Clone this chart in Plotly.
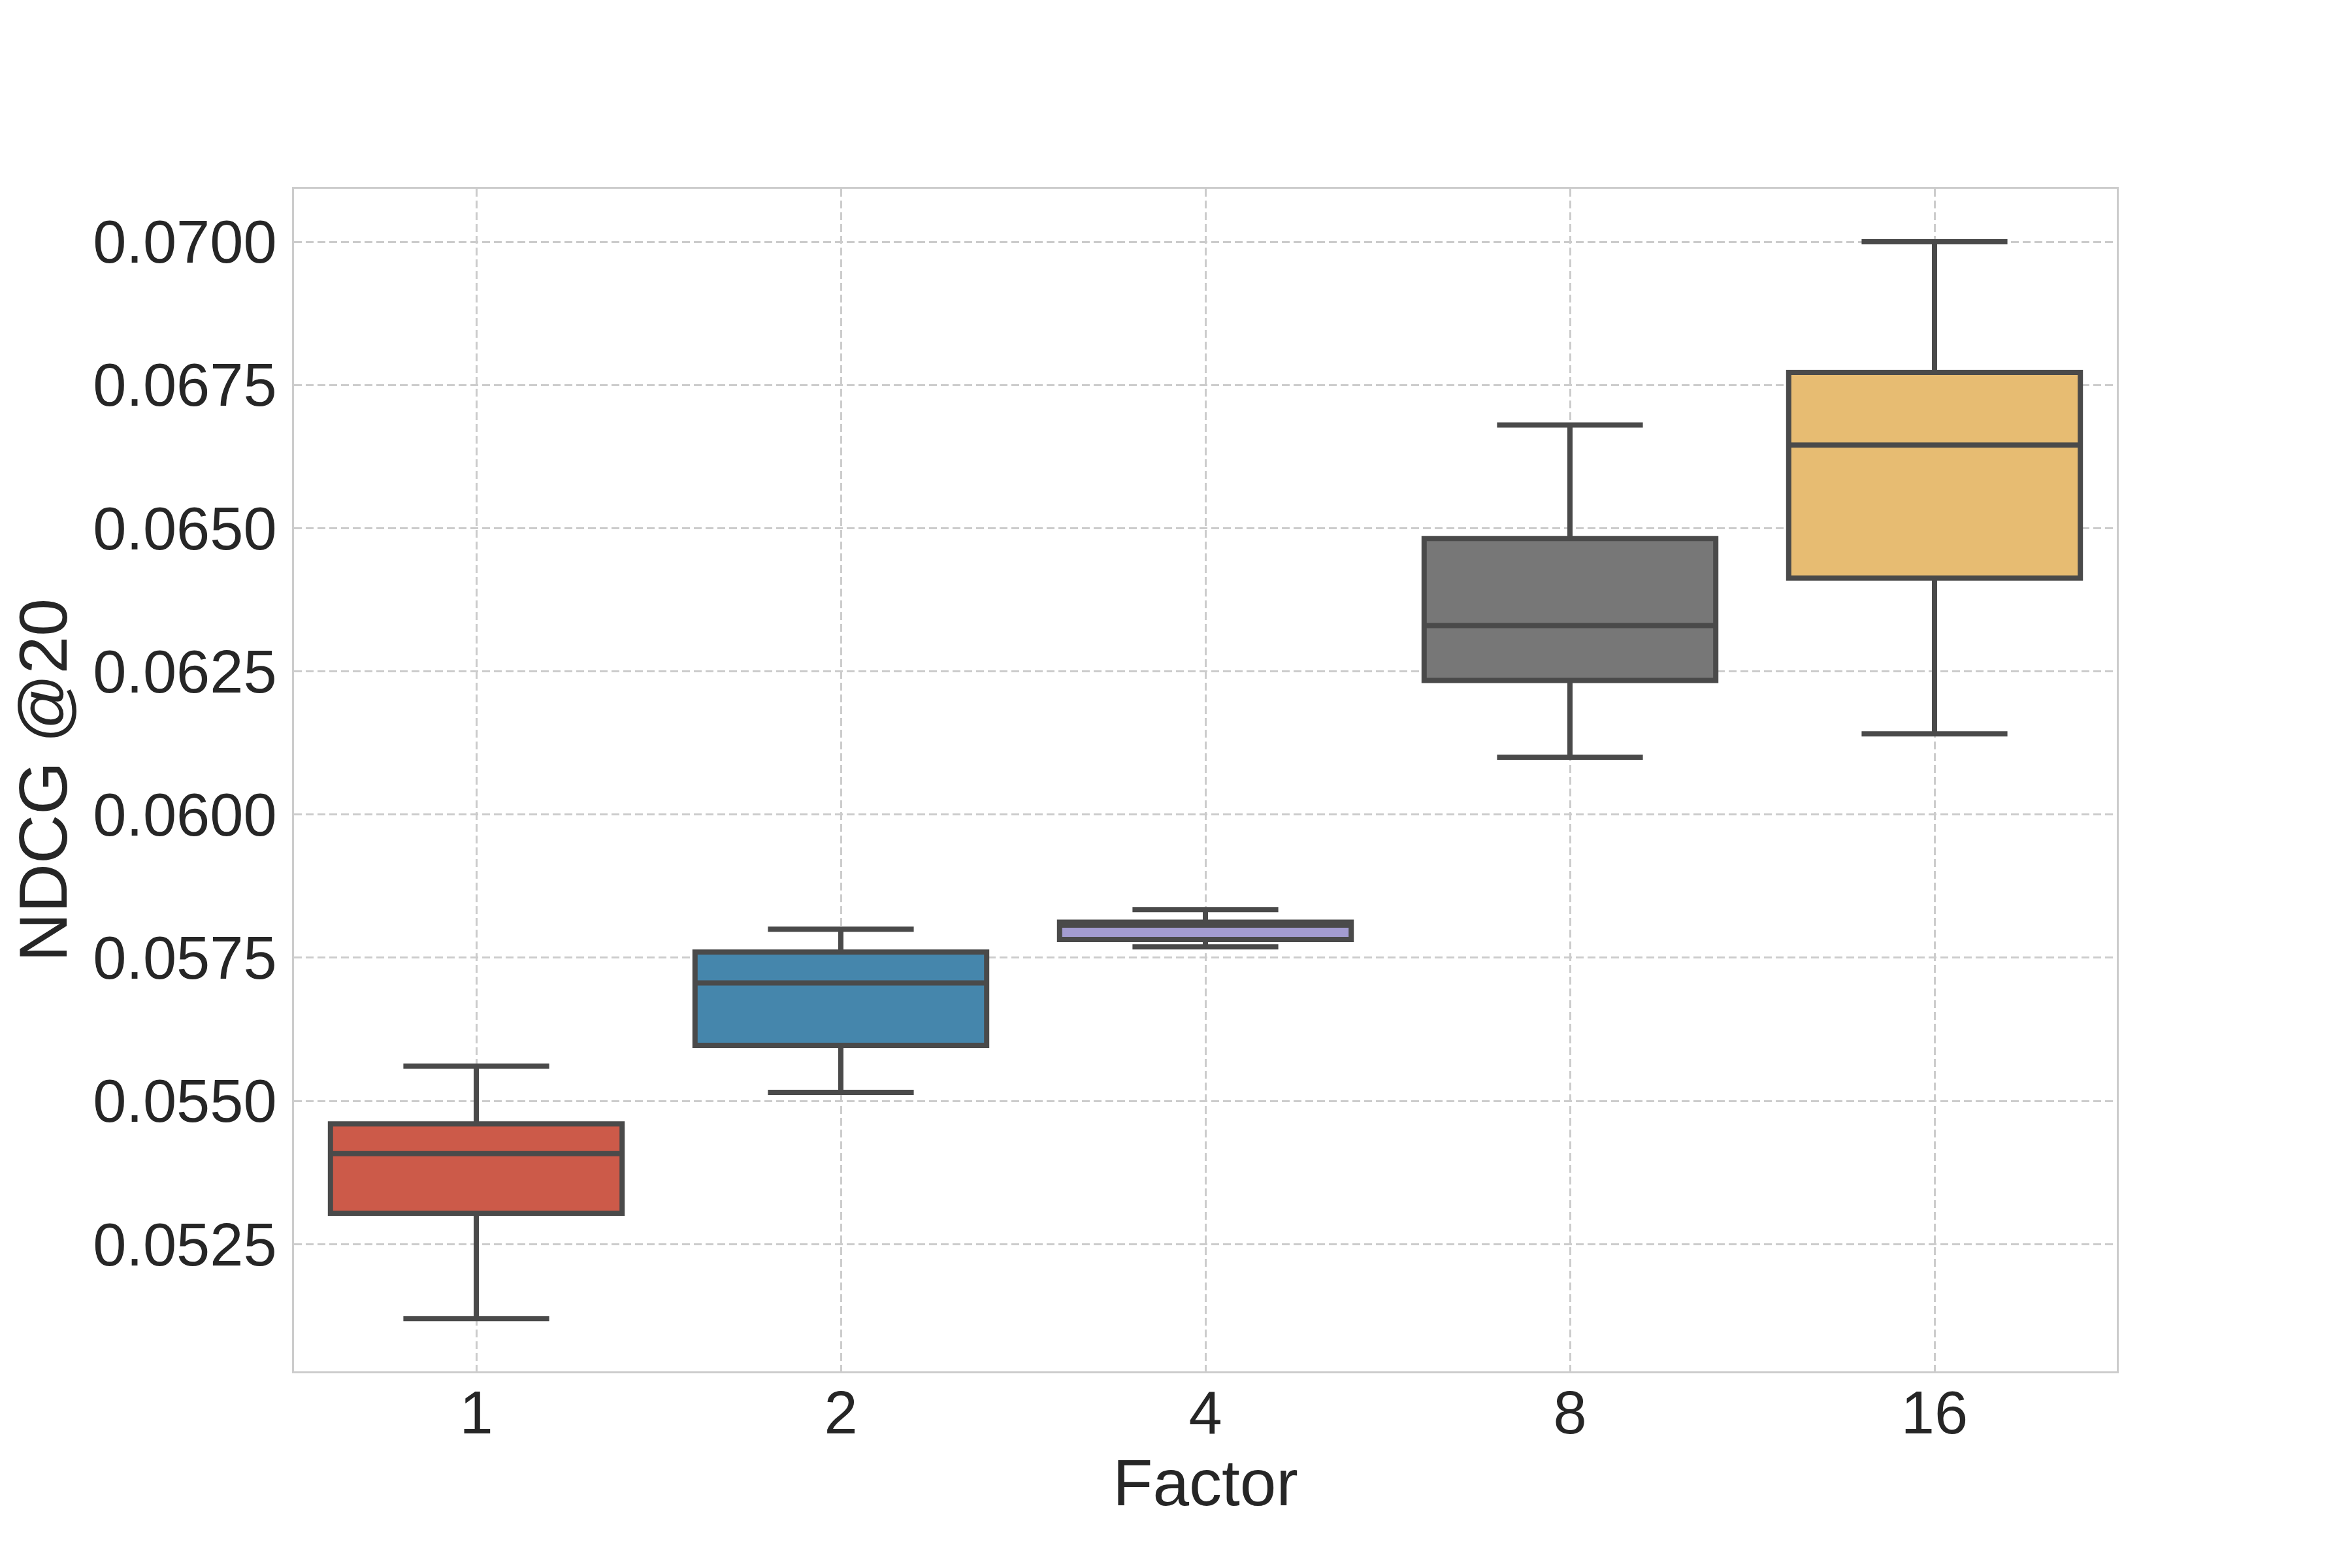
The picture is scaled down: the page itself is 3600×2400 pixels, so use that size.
import plotly.graph_objects as go

categories = ["1", "2", "4", "8", "16"]
q1 = [0.05304, 0.05597, 0.05782, 0.06234, 0.06413]
median = [0.05408, 0.05706, 0.05807, 0.06330, 0.06645]
q3 = [0.05460, 0.05760, 0.05812, 0.06482, 0.06772]
lower = [0.05120, 0.05515, 0.05769, 0.06100, 0.06141]
upper = [0.05561, 0.05800, 0.05834, 0.06680, 0.07000]
colors = ["#CC5A49", "#4586AC", "#A39CD1", "#777777", "#E7BC72"]
yticks = [0.0525, 0.0550, 0.0575, 0.0600, 0.0625, 0.0650, 0.0675, 0.0700]

fig = go.Figure()
for i, c in enumerate(categories):
    fig.add_trace(go.Box(
        x=[c], q1=[q1[i]], median=[median[i]], q3=[q3[i]],
        lowerfence=[lower[i]], upperfence=[upper[i]],
        fillcolor=colors[i], line=dict(color="#4A4A4A", width=8),
        width=0.8, whiskerwidth=0.5, boxpoints=False, showlegend=False,
        hoverinfo="skip",
    ))

font = "Liberation Sans, Arial, sans-serif"
fig.update_layout(
    width=3600, height=2400,
    margin=dict(l=442, r=368, t=281, b=309, autoexpand=False),
    paper_bgcolor="white", plot_bgcolor="white",
    boxmode="overlay",
    font=dict(family=font, color="#262626"),
    xaxis=dict(
        type="category", categoryorder="array", categoryarray=categories,
        range=[-0.5, 4.5],
        showgrid=True, gridcolor="#CCCCCC", gridwidth=3, griddash="12px,6px",
        showline=True, linecolor="#CCCCCC", linewidth=3, mirror=True,
        ticks="", tickfont=dict(size=92, family=font, color="#262626"),
        ticklabelstandoff=-18,
        title=dict(text="Factor", font=dict(size=100, family=font, color="#262626"), standoff=8),
        zeroline=False,
    ),
    yaxis=dict(
        range=[0.05028, 0.070924],
        tickvals=yticks, ticktext=[f"{v:.4f}" for v in yticks],
        showgrid=True, gridcolor="#CCCCCC", gridwidth=3, griddash="12px,6px",
        showline=True, linecolor="#CCCCCC", linewidth=3, mirror=True,
        ticks="", tickfont=dict(size=92, family=font, color="#262626"),
        ticklabelstandoff=5,
        title=dict(text="NDCG @20", font=dict(size=104, family=font, color="#262626"), standoff=30),
        zeroline=False,
    ),
)
fig.write_html("out.html")
